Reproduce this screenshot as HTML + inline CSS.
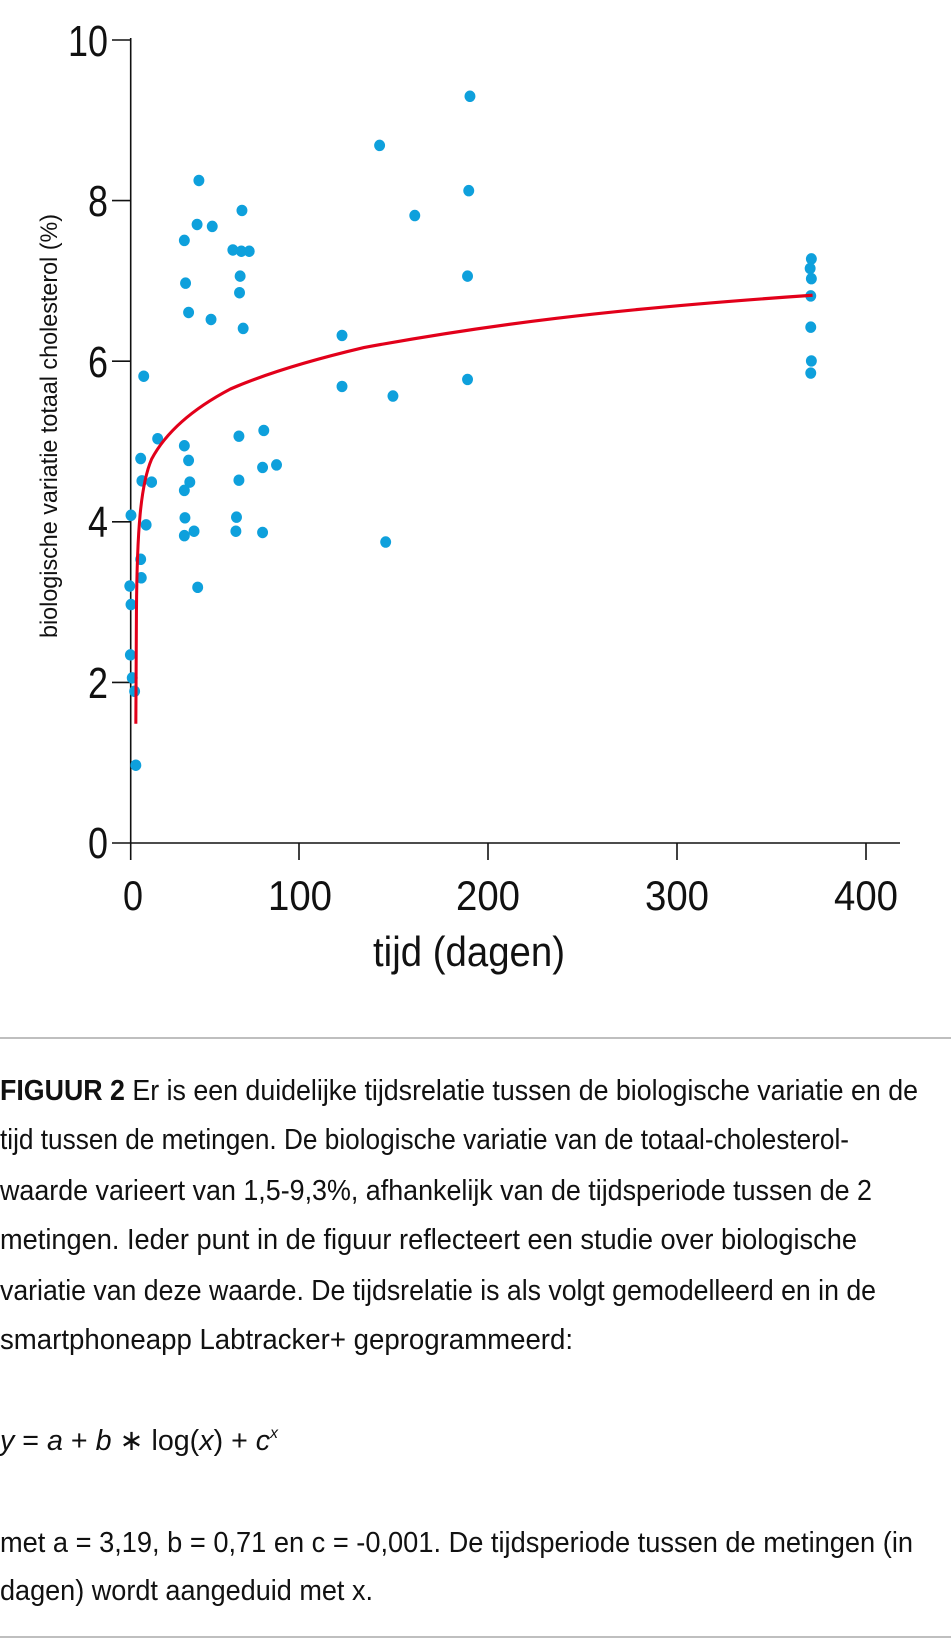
<!DOCTYPE html>
<html><head><meta charset="utf-8"><style>
html,body{margin:0;padding:0;background:#fff}
svg{display:block}
text{font-family:"Liberation Sans Narrow","Liberation Sans",sans-serif;fill:#111}
</style></head><body>
<svg width="951" height="1650" viewBox="0 0 951 1650" xmlns="http://www.w3.org/2000/svg">
<g stroke="#111" stroke-width="1.6" fill="none">
<line x1="130.7" y1="38" x2="130.7" y2="860"/>
<line x1="112" y1="843" x2="900" y2="843"/>
<line x1="112" y1="40" x2="131" y2="40"/>
<line x1="112" y1="200.6" x2="131" y2="200.6"/>
<line x1="112" y1="361.2" x2="131" y2="361.2"/>
<line x1="112" y1="521.8" x2="131" y2="521.8"/>
<line x1="112" y1="682.4" x2="131" y2="682.4"/>
<line x1="299" y1="843" x2="299" y2="860"/>
<line x1="488" y1="843" x2="488" y2="860"/>
<line x1="677" y1="843" x2="677" y2="860"/>
<line x1="866" y1="843" x2="866" y2="860"/>
</g>
<g font-size="44" text-anchor="end">
<text x="108" y="56" textLength="40" lengthAdjust="spacingAndGlyphs">10</text>
<text x="108" y="216" textLength="20" lengthAdjust="spacingAndGlyphs">8</text>
<text x="108" y="377" textLength="20" lengthAdjust="spacingAndGlyphs">6</text>
<text x="108" y="537" textLength="20" lengthAdjust="spacingAndGlyphs">4</text>
<text x="108" y="698" textLength="20" lengthAdjust="spacingAndGlyphs">2</text>
<text x="108" y="858" textLength="20" lengthAdjust="spacingAndGlyphs">0</text>
</g>
<g font-size="42">
<text x="123" y="910" textLength="20" lengthAdjust="spacingAndGlyphs">0</text>
<text x="268" y="910" textLength="64" lengthAdjust="spacingAndGlyphs">100</text>
<text x="456" y="910" textLength="64" lengthAdjust="spacingAndGlyphs">200</text>
<text x="645" y="910" textLength="64" lengthAdjust="spacingAndGlyphs">300</text>
<text x="834" y="910" textLength="64" lengthAdjust="spacingAndGlyphs">400</text>
</g>
<text x="373" y="966" font-size="42" textLength="192" lengthAdjust="spacingAndGlyphs">tijd (dagen)</text>
<text transform="translate(57,426) rotate(-90)" font-size="24" text-anchor="middle" textLength="424" lengthAdjust="spacingAndGlyphs">biologische variatie totaal cholesterol (%)</text>

<g transform="scale(0.6064,0.6377)">
<g fill="#0ea0dc">
<circle cx="775" cy="151" r="9"/><circle cx="626" cy="228" r="9"/><circle cx="328" cy="283" r="9"/><circle cx="773" cy="299" r="9"/><circle cx="684" cy="338" r="9"/><circle cx="399" cy="330" r="9"/><circle cx="325" cy="352" r="9"/><circle cx="350" cy="355" r="9"/><circle cx="304" cy="377" r="9"/><circle cx="384" cy="392" r="9"/><circle cx="398" cy="394" r="9"/><circle cx="411" cy="394" r="9"/><circle cx="1338" cy="406" r="9"/><circle cx="1336" cy="421" r="9"/><circle cx="1338" cy="437" r="9"/><circle cx="306" cy="444" r="9"/><circle cx="396" cy="433" r="9"/><circle cx="771" cy="433" r="9"/><circle cx="395" cy="459" r="9"/><circle cx="1337" cy="464" r="9"/><circle cx="311" cy="490" r="9"/><circle cx="348" cy="501" r="9"/><circle cx="401" cy="515" r="9"/><circle cx="1337" cy="513" r="9"/><circle cx="564" cy="526" r="9"/><circle cx="237" cy="590" r="9"/><circle cx="1338" cy="566" r="9"/><circle cx="1337" cy="585" r="9"/><circle cx="771" cy="595" r="9"/><circle cx="564" cy="606" r="9"/><circle cx="648" cy="621" r="9"/><circle cx="260" cy="688" r="9"/><circle cx="304" cy="699" r="9"/><circle cx="394" cy="684" r="9"/><circle cx="435" cy="675" r="9"/><circle cx="232" cy="719" r="9"/><circle cx="311" cy="722" r="9"/><circle cx="433" cy="733" r="9"/><circle cx="456" cy="729" r="9"/><circle cx="234" cy="754" r="9"/><circle cx="250" cy="756" r="9"/><circle cx="313" cy="756" r="9"/><circle cx="304" cy="769" r="9"/><circle cx="394" cy="753" r="9"/><circle cx="216" cy="808" r="9"/><circle cx="241" cy="823" r="9"/><circle cx="305" cy="812" r="9"/><circle cx="390" cy="811" r="9"/><circle cx="320" cy="833" r="9"/><circle cx="304" cy="840" r="9"/><circle cx="389" cy="833" r="9"/><circle cx="433" cy="835" r="9"/><circle cx="636" cy="850" r="9"/><circle cx="232" cy="877" r="9"/><circle cx="233" cy="906" r="9"/><circle cx="214" cy="919" r="9"/><circle cx="326" cy="921" r="9"/><circle cx="216" cy="948" r="9"/><circle cx="215" cy="1027" r="9"/><circle cx="218" cy="1063" r="9"/><circle cx="222" cy="1084" r="9"/><circle cx="224" cy="1200" r="9"/>
</g>
<path d="M224,1135 L225,960 C226,830 232,760 250,720 C275,675 320,640 380,610 C440,585 520,563 600,545 C800,510 1000,485 1340,463" fill="none" stroke="#e2001a" stroke-width="5"/>
</g>

<line x1="0" y1="1038" x2="951" y2="1038" stroke="#aaa" stroke-width="1.5"/>
<g font-size="29">
<text x="0" y="1100" textLength="918" lengthAdjust="spacingAndGlyphs"><tspan font-weight="bold">FIGUUR 2</tspan>  Er is een duidelijke tijdsrelatie tussen de biologische variatie en de</text>
<text x="0" y="1149" textLength="849" lengthAdjust="spacingAndGlyphs">tijd tussen de metingen. De biologische variatie van de totaal-cholesterol-</text>
<text x="0" y="1200" textLength="872" lengthAdjust="spacingAndGlyphs">waarde varieert van 1,5-9,3%, afhankelijk van de tijdsperiode tussen de 2</text>
<text x="0" y="1249" textLength="857" lengthAdjust="spacingAndGlyphs">metingen. Ieder punt in de figuur reflecteert een studie over biologische</text>
<text x="0" y="1300" textLength="876" lengthAdjust="spacingAndGlyphs">variatie van deze waarde. De tijdsrelatie is als volgt gemodelleerd en in de</text>
<text x="0" y="1349" textLength="573" lengthAdjust="spacingAndGlyphs">smartphoneapp Labtracker+ geprogrammeerd:</text>
<text x="0" y="1450" textLength="278" lengthAdjust="spacingAndGlyphs"><tspan font-style="italic">y</tspan> = <tspan font-style="italic">a</tspan> + <tspan font-style="italic">b</tspan> ∗ log(<tspan font-style="italic">x</tspan>) + <tspan font-style="italic">c</tspan><tspan font-size="16" dy="-12" font-style="italic">x</tspan></text>
<text x="0" y="1552" textLength="913" lengthAdjust="spacingAndGlyphs">met a = 3,19, b = 0,71 en c = -0,001. De tijdsperiode tussen de metingen (in</text>
<text x="0" y="1600" textLength="373" lengthAdjust="spacingAndGlyphs">dagen) wordt aangeduid met x.</text>
</g>
<line x1="0" y1="1637" x2="951" y2="1637" stroke="#aaa" stroke-width="1.5"/>
</svg>
</body></html>
